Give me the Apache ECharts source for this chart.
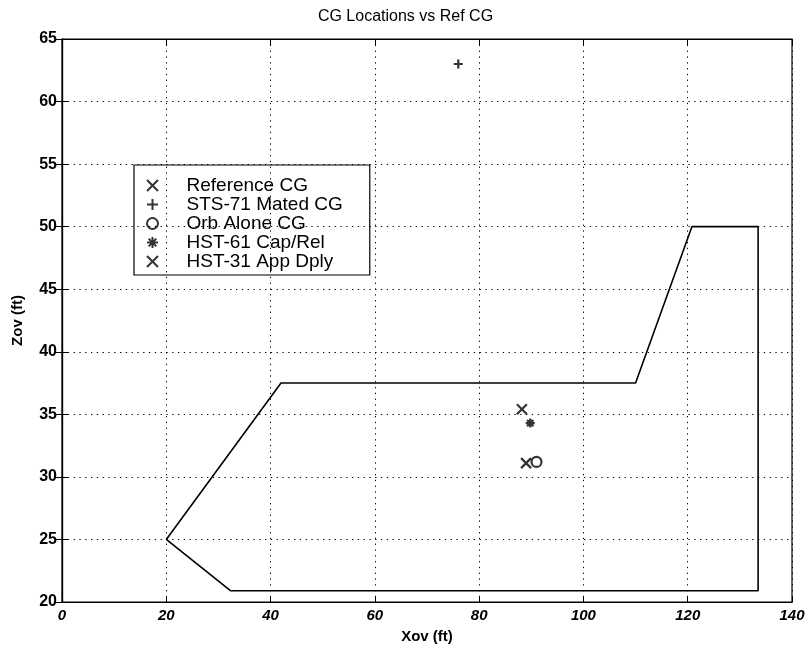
<!DOCTYPE html>
<html>
<head>
<meta charset="utf-8">
<script src="https://cdn.jsdelivr.net/npm/echarts@6/dist/echarts.min.js"></script>
<style>html,body{margin:0;padding:0;background:#fff;}#c{width:811px;height:649px;}</style>
</head>
<body>
<div id="c"></div>
<script>
// Envelope polygon (Xov, Zov)
const envX = [20, 32.3, 133.5, 133.5, 120.8, 110, 42, 20];
const envZ = [25, 20.9, 20.9, 50, 50, 37.5, 37.5, 25];
// CG points
const seriesNames = ['Reference CG', 'STS-71 Mated CG', 'Orb Alone CG', 'HST-61 Cap/Rel', 'HST-31 App Dply'];
const pointX = [88.2, 76.0, 91.0, 89.8, 89.0];
const pointZ = [35.4, 63.0, 31.2, 34.3, 31.1];
const xTicks = [0, 20, 40, 60, 80, 100, 120, 140];
const zTicks = [20, 25, 30, 35, 40, 45, 50, 55, 60, 65];

const SYM = {
  x: 'path://M0,0L10,10M10,0L0,10',
  plus: 'path://M5,0L5,10M0,5L10,5',
  star: 'path://M5,0L5,10M0,5L10,5M1.5,1.5L8.5,8.5M8.5,1.5L1.5,8.5'
};
const symbols = [SYM.x, SYM.plus, 'circle', SYM.star, SYM.x];
const sizes = [10, 9, 10, 9, 10];

const font = 'Liberation Sans, Arial, Helvetica, sans-serif';
const gridLine = { show: true, lineStyle: { color: '#000', width: 1, type: [1.3, 4.5] } };

const series = [{
  name: 'Envelope', type: 'line',
  data: envX.map((x, i) => [x, envZ[i]]),
  showSymbol: false, symbol: 'none',
  lineStyle: { color: '#000', width: 1.6 },
  silent: true, z: 3
}];
seriesNames.forEach((n, i) => {
  series.push({
    name: n, type: 'scatter',
    data: [[pointX[i], pointZ[i]]],
    symbol: symbols[i], symbolSize: sizes[i],
    itemStyle: { color: 'rgba(0,0,0,0)', borderColor: '#000', borderWidth: 2.2 },
    z: 4
  });
});

const chart = echarts.init(document.getElementById('c'), null, { renderer: 'canvas' });
chart.setOption({
  animation: false,
  backgroundColor: '#fff',
  title: {
    text: 'CG Locations vs Ref CG', left: 'center', top: 4,
    textStyle: { fontFamily: font, fontSize: 16, fontWeight: 'normal', color: '#000' }
  },
  grid: { left: 62, right: 19, top: 39, bottom: 47, show: true, borderColor: '#000', borderWidth: 1.2 },
  legend: {
    data: seriesNames,
    orient: 'vertical', left: 134, top: 165,
    itemWidth: 20, itemHeight: 11, itemGap: 0,
    padding: [11, 27, 4, 12],
    borderColor: '#000', borderWidth: 1.2,
    selectedMode: false,
    textStyle: { fontFamily: font, fontSize: 19, color: '#000', lineHeight: 18.7, padding: [0, 0, 0, 19] }
  },
  xAxis: [{
    type: 'value', min: xTicks[0], max: xTicks[xTicks.length - 1], interval: 20,
    name: 'Xov (ft)', nameLocation: 'middle', nameGap: 27,
    nameTextStyle: { fontFamily: font, fontSize: 15, color: '#000', fontWeight: 'bold' },
    axisLine: { show: true, lineStyle: { color: '#000', width: 1.2 } },
    axisTick: { show: true, inside: true, length: 6, lineStyle: { color: '#000' } },
    axisLabel: { fontFamily: font, fontSize: 15, color: '#000', fontStyle: 'italic', fontWeight: 'bold', margin: 6 },
    splitLine: gridLine
  }, {
    type: 'value', position: 'top', min: xTicks[0], max: xTicks[xTicks.length - 1], interval: 20,
    axisLine: { show: true, lineStyle: { color: '#000', width: 1.2 } },
    axisTick: { show: true, inside: true, length: 6, lineStyle: { color: '#000' } },
    axisLabel: { show: false }, splitLine: { show: false }
  }],
  yAxis: [{
    type: 'value', min: zTicks[0], max: zTicks[zTicks.length - 1], interval: 5,
    name: 'Zov (ft)', nameLocation: 'middle', nameGap: 37,
    nameTextStyle: { fontFamily: font, fontSize: 15, color: '#000', fontWeight: 'bold' },
    axisLine: { show: true, lineStyle: { color: '#000', width: 1.2 } },
    axisTick: { show: true, inside: true, length: 6, lineStyle: { color: '#000' } },
    axisLabel: { fontFamily: font, fontSize: 16, color: '#000', fontWeight: 'bold', margin: 5 },
    splitLine: gridLine
  }, {
    type: 'value', position: 'right', min: zTicks[0], max: zTicks[zTicks.length - 1], interval: 5,
    axisLine: { show: true, lineStyle: { color: '#000', width: 1.2 } },
    axisTick: { show: true, inside: true, length: 6, lineStyle: { color: '#000' } },
    axisLabel: { show: false }, splitLine: { show: false }
  }],
  series: series
});
</script>
</body>
</html>
